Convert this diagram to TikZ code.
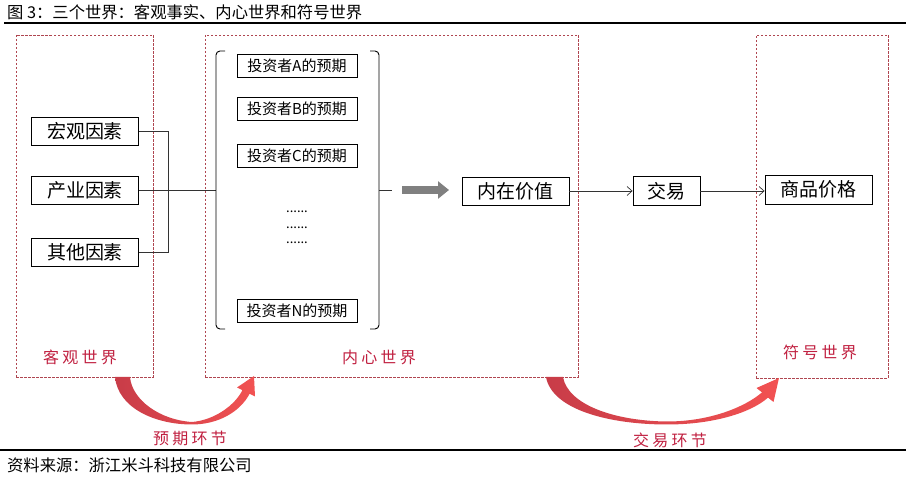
\documentclass[tikz,border=0pt]{standalone}
\usepackage{fontspec}
\setmainfont{Noto Sans CJK SC}
\newfontfamily\redfont[LetterSpace=20]{Noto Sans CJK SC}
\usetikzlibrary{arrows.meta}
\definecolor{lblred}{RGB}{192,32,64}
\definecolor{dashred}{RGB}{175,70,80}
\definecolor{arrA}{RGB}{200,60,72}
\definecolor{arrB}{RGB}{242,82,82}
\begin{document}
\begin{tikzpicture}[x=1pt,y=-1pt,
  box/.style={draw=black,line width=0.9pt,inner sep=0pt,minimum height=28pt,font=\fontsize{19}{19}\selectfont},
  ibox/.style={draw=black,line width=0.9pt,inner sep=0pt,minimum width=120pt,minimum height=23pt,font=\fontsize{15}{15}\selectfont},
  world/.style={draw=dashred,dash pattern=on 2.5pt off 1.5pt,line width=0.6pt,inner sep=0pt},
  wlabel/.style={text=lblred,font=\redfont\fontsize{16}{16}\selectfont},
  conn/.style={draw=black!80,line width=0.7pt},
  thinarrow/.style={conn,-{Straight Barb[length=5pt,width=9pt]}},
  bigarr/.style={draw=black!50,line width=8pt,-{Triangle[length=11pt,width=17pt]}},
  brk/.style={draw=black,line width=0.9pt,rounded corners=4pt},
  dots/.style={font=\fontsize{13}{13}\selectfont,inner sep=0pt},
  rule/.style={draw=black,line width=1.3pt},
  curved/.style={left color=arrA,right color=arrB,draw=none}
]
\useasboundingbox (0,0) rectangle (906,478);

% title and rules
\node[anchor=west,inner sep=0pt,font=\fontsize{16.3}{16.3}\selectfont] (title) at (7,12) {图 3：三个世界：客观事实、内心世界和符号世界};
\coordinate (r1a) at (4,23); \coordinate (r1b) at (906,23);
\draw[rule] (r1a) -- (r1b);
\coordinate (r2a) at (0,450); \coordinate (r2b) at (906,450);
\draw[rule] (r2a) -- (r2b);
\node[anchor=west,inner sep=0pt,font=\fontsize{16.3}{16.3}\selectfont] (src) at (7,465) {资料来源：浙江米斗科技有限公司};

% worlds
\node[world,minimum width=137pt,minimum height=342pt] (w1) at (84.5,206) {};
\node[world,minimum width=373pt,minimum height=342pt] (w2) at (391.5,206) {};
\node[world,minimum width=132pt,minimum height=343pt] (w3) at (822,206.5) {};
\node[wlabel] (w1l) at (80,357) {客观世界};
\node[wlabel] (w2l) at (379,357) {内心世界};
\node[wlabel] (w3l) at (820,352) {符号世界};

% factors
\node[box,minimum width=107pt] (hg) at (85,131) {宏观因素};
\node[box,minimum width=107pt] (cy) at (85,190.5) {产业因素};
\node[box,minimum width=107pt] (qt) at (85,252) {其他因素};
\coordinate (bracketL) at (216,190.5);
\draw[conn] (hg.east) -- ++(29,0) |- (qt.east);
\draw[conn] (cy.east) -- (bracketL);

% brackets
\draw[brk] (225,51) -- (216,51) -- (216,329) -- (225,329);
\draw[brk] (370,51) -- (379,51) -- (379,329) -- (370,329);
\coordinate (bracketR) at (379,190);
\coordinate (brtick) at (392,190);
\draw[conn] (bracketR) -- (brtick);

% investors
\node[ibox] (ia) at (297,65.5) {投资者A的预期};
\node[ibox] (ib) at (297,108.5) {投资者B的预期};
\node[ibox] (ic) at (297,156) {投资者C的预期};
\node[dots] (d1) at (297,212) {......};
\node[dots] (d2) at (297,228) {......};
\node[dots] (d3) at (297,243) {......};
\node[ibox] (in) at (297,310.5) {投资者N的预期};

% value chain
\node[box,minimum width=107pt] (nv) at (515.5,191) {内在价值};
\node[box,minimum width=67pt,minimum height=29pt] (jy) at (666.5,191) {交易};
\node[box,minimum width=107pt,minimum height=29pt] (sp) at (818.5,189.5) {商品价格};
\coordinate (ga1) at (402,190);
\coordinate (ga2) at (449,190);
\draw[bigarr] (ga1) -- (ga2);
\draw[thinarrow] (nv.east) -- (jy.west);
\draw[thinarrow] (jy.east) -- (sp.west |- jy.east);

% curved arrows
\shade[curved] (115,377) .. controls (118,408) and (155,424.5) .. (192,424.5)
  .. controls (218,424.5) and (240,412) .. (249.6,393.8)
  -- (255,396.5) -- (254,376) -- (237,387.5) -- (242.4,390.2)
  .. controls (235,405) and (215,420) .. (192,422)
  .. controls (160,420) and (132,400) .. (130,377) -- cycle;
\shade[curved] (546,377) .. controls (552,410) and (610,424.5) .. (667,424.5)
  .. controls (715,424.5) and (752,412) .. (768,397.6)
  -- (773.5,402) -- (779,378) -- (756.5,388) -- (762,392.4)
  .. controls (745,407) and (710,421.5) .. (667,421.5)
  .. controls (615,421) and (568,405) .. (563,377) -- cycle;
\node[wlabel] (yq) at (190,438) {预期环节};
\node[wlabel] (jyl) at (670,440) {交易环节};
\end{tikzpicture}
\end{document}
